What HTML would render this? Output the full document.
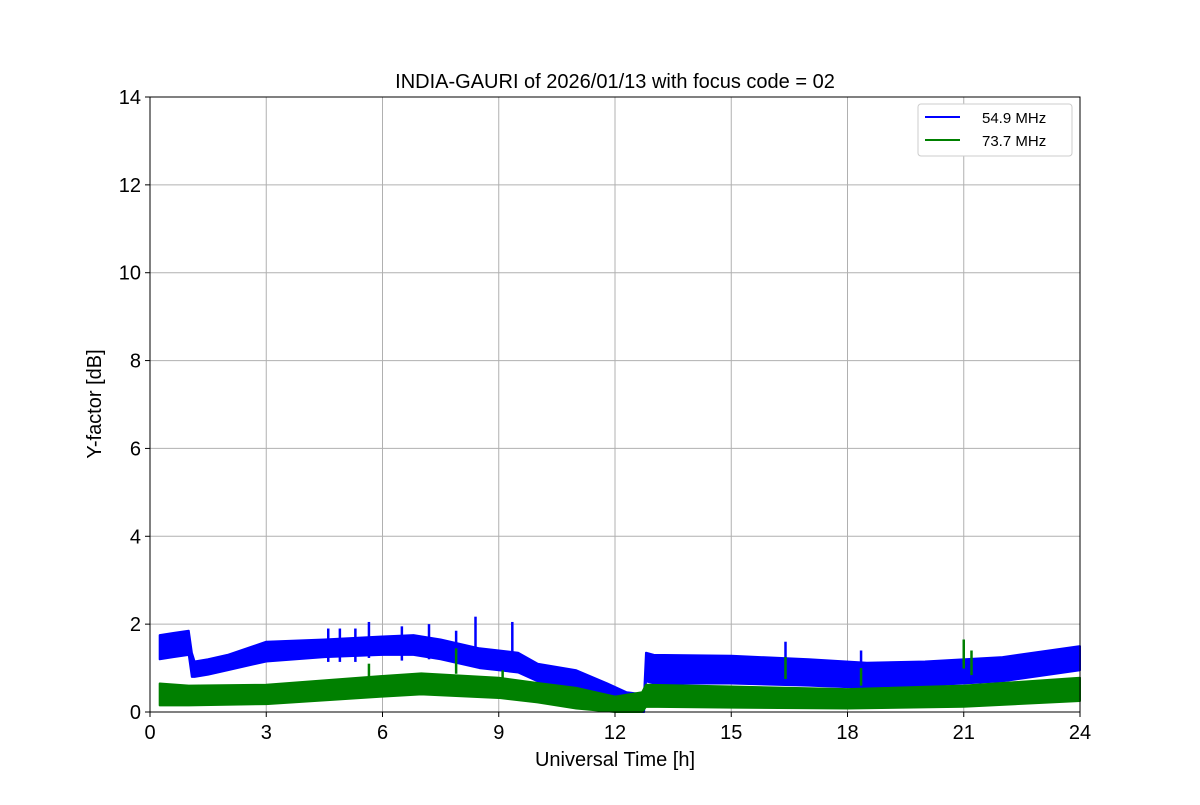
<!DOCTYPE html>
<html><head><meta charset="utf-8"><style>
body{margin:0;background:#fff;font-family:"Liberation Sans",sans-serif}
svg text{font-family:"Liberation Sans","DejaVu Sans",sans-serif}
</style></head><body>
<svg id="chart" width="1200" height="800">
<text x="615" y="88" text-anchor="middle" font-size="20">INDIA-GAURI of 2026/01/13 with focus code = 02</text>
<g id="grid"></g><g id="series"></g><g id="axes"></g>
<text x="615" y="766" text-anchor="middle" font-size="20">Universal Time [h]</text>
<text transform="translate(101,404) rotate(-90)" text-anchor="middle" font-size="20">Y-factor [dB]</text>
<g>
<rect x="918" y="104" width="154" height="52" rx="3" fill="#fff" stroke="#ccc"/>
<line x1="925" y1="117" x2="960" y2="117" stroke="#0000ff" stroke-width="2"/>
<text x="982" y="123" font-size="15">54.9 MHz</text>
<line x1="925" y1="140" x2="960" y2="140" stroke="#008000" stroke-width="2"/>
<text x="982" y="146" font-size="15">73.7 MHz</text>
</g>
</svg>
<script>
const xTicks=[0,3,6,9,12,15,18,21,24];
const yTicks=[0,2,4,6,8,10,12,14];
const blueT=[0.25,0.6,1.0,1.08,1.15,1.5,2,3,4.5,6,6.8,7.5,8.5,9.5,10,11,11.8,12.3,12.75,12.8,13,15,17,18.5,20,22,24];
const blueLo=[1.2,1.25,1.3,0.8,0.8,0.85,0.95,1.15,1.25,1.3,1.3,1.2,1.0,0.9,0.7,0.5,0.22,0.0,0.0,0.7,0.65,0.65,0.6,0.55,0.6,0.7,0.95];
const blueHi=[1.75,1.8,1.85,1.35,1.15,1.2,1.3,1.6,1.65,1.72,1.75,1.65,1.45,1.35,1.1,0.95,0.65,0.45,0.4,1.35,1.3,1.28,1.2,1.12,1.15,1.25,1.5];
const greenT=[0.25,1,3,6,7,9,10,11,12,12.7,12.8,15,18,21,24];
const greenLo=[0.15,0.15,0.18,0.35,0.4,0.32,0.22,0.08,0.0,0.0,0.12,0.1,0.08,0.12,0.25];
const greenHi=[0.65,0.6,0.62,0.82,0.88,0.78,0.66,0.55,0.35,0.45,0.62,0.58,0.52,0.6,0.78];
const blueSpikeT=[4.6,4.9,5.3,5.65,6.5,7.2,7.9,8.4,9.35,16.4,18.35,21.0];
const blueSpikeV=[1.9,1.9,1.9,2.05,1.95,2.0,1.85,2.17,2.05,1.6,1.4,1.65];
const greenSpikeT=[5.65,7.9,9.1,16.4,18.35,21.0,21.2];
const greenSpikeV=[1.1,1.45,0.95,1.25,1.0,1.65,1.4];
const X0=150,X1=1080,Y0=712,Y1=97;
const sx=v=>X0+(v/24)*(X1-X0), sy=v=>Y0-(v/14)*(Y0-Y1);
const NS='http://www.w3.org/2000/svg';
function mk(tag,attrs,parent){const e=document.createElementNS(NS,tag);for(const k in attrs)e.setAttribute(k,attrs[k]);parent.appendChild(e);return e;}
const grid=document.getElementById('grid'),axes=document.getElementById('axes'),ser=document.getElementById('series');
xTicks.forEach(t=>{
 const g=mk('line',{x1:sx(t),x2:sx(t),y1:Y1,y2:Y0,stroke:'#b0b0b0','stroke-width':1},grid);
 
 
 mk('line',{x1:sx(t),x2:sx(t),y1:Y0,y2:Y0+5,stroke:'#000'},axes);
 const tx=mk('text',{x:sx(t),y:Y0+27,'text-anchor':'middle','font-size':20},axes);tx.textContent=t;
 
 
});
yTicks.forEach(t=>{
 const g=mk('line',{x1:X0,x2:X1,y1:sy(t),y2:sy(t),stroke:'#b0b0b0','stroke-width':1},grid);
 
 
 mk('line',{x1:X0-5,x2:X0,y1:sy(t),y2:sy(t),stroke:'#000'},axes);
 const tx=mk('text',{x:X0-9,y:sy(t)+7,'text-anchor':'end','font-size':20},axes);tx.textContent=t;
 
 
});
const fr=mk('rect',{x:X0,y:Y1,width:X1-X0,height:Y0-Y1,fill:'none',stroke:'#000','stroke-width':1},axes);


function band(T,lo,hi,spT,spV,color,name){
 let pts=T.map((t,i)=>sx(t)+','+sy(hi[i]));
 for(let i=T.length-1;i>=0;i--)pts.push(sx(T[i])+','+sy(lo[i]));
 const p=mk('polygon',{points:pts.join(' '),fill:color,stroke:color,'stroke-width':2,'stroke-linejoin':'round'},ser);
 
 
 spT.forEach((t,i)=>{
  const l=mk('line',{x1:sx(t),x2:sx(t),y1:sy(spV[i]),y2:sy(spV[i]*0.6),stroke:color,'stroke-width':2.5},ser);
  
  
 });
}
band(blueT,blueLo,blueHi,blueSpikeT,blueSpikeV,'#0000ff','series-54-9');
band(greenT,greenLo,greenHi,greenSpikeT,greenSpikeV,'#008000','series-73-7');
</script>
</body></html>
